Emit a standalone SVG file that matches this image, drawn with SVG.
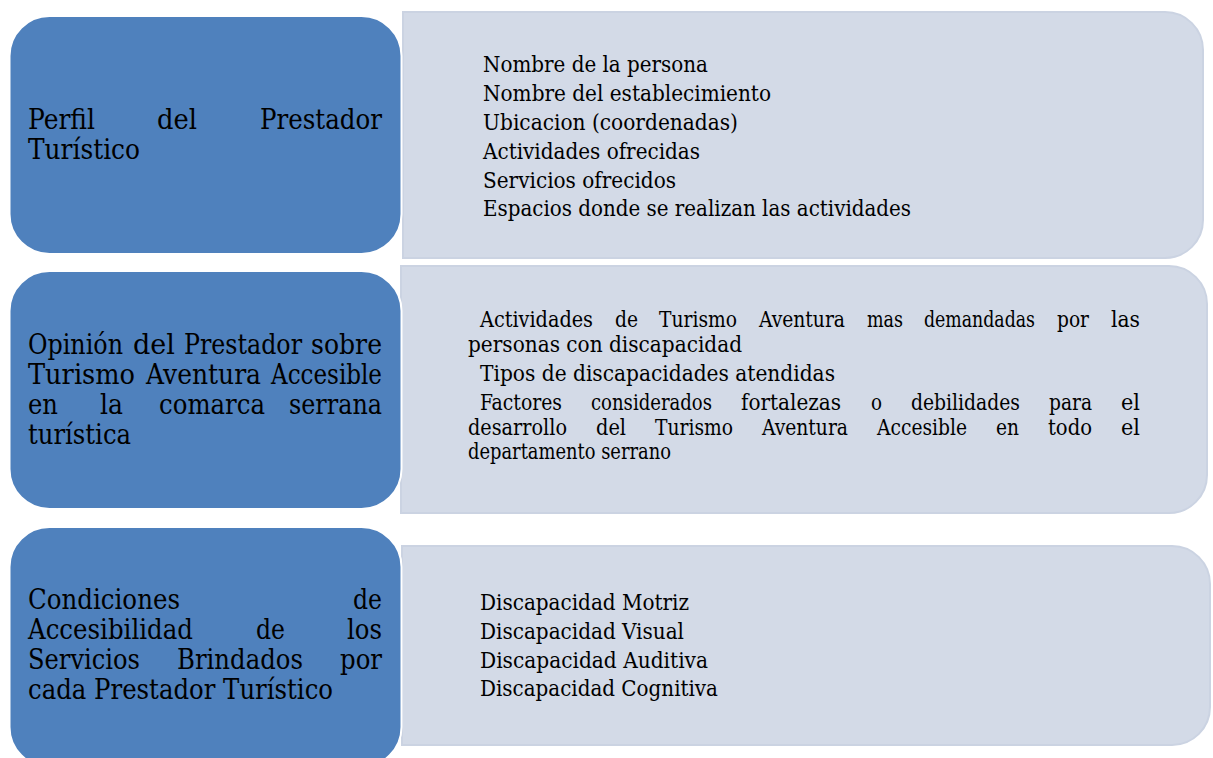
<svg xmlns="http://www.w3.org/2000/svg" width="1213" height="758" viewBox="0 0 1213 758">
<style>
.lbox{fill:#4F81BD;stroke:#FFFFFF;stroke-width:2}
.rbox{fill:#D3DAE7;stroke:#CBD3E2;stroke-width:2}
.lt{font-family:"DejaVu Serif","Liberation Serif",serif;font-size:27px;fill:#000}
.rt{font-family:"DejaVu Serif Condensed","DejaVu Serif","Liberation Serif",serif;font-stretch:condensed;font-size:22px;fill:#000}
</style>
<rect width="1213" height="758" fill="#FFFFFF"/>
<g id="connectors"></g>

<g id="detail1">
<path class="rbox" d="M403,12 H1165 A38,38 0 0 1 1203,50 V220 A38,38 0 0 1 1165,258 H403 Z"/>
<text class="rt" x="483" y="72" textLength="225" lengthAdjust="spacingAndGlyphs">Nombre de la persona</text>
<text class="rt" x="483" y="101" textLength="288" lengthAdjust="spacingAndGlyphs">Nombre del establecimiento</text>
<text class="rt" x="483" y="130" textLength="255" lengthAdjust="spacingAndGlyphs">Ubicacion (coordenadas)</text>
<text class="rt" x="483" y="159" textLength="217" lengthAdjust="spacingAndGlyphs">Actividades ofrecidas</text>
<text class="rt" x="483" y="188" textLength="193" lengthAdjust="spacingAndGlyphs">Servicios ofrecidos</text>
<text class="rt" x="483" y="216" textLength="428" lengthAdjust="spacingAndGlyphs">Espacios donde se realizan las actividades</text>
</g>

<g id="detail2">
<path class="rbox" d="M401,266 H1169 A38,38 0 0 1 1207,304 V475 A38,38 0 0 1 1169,513 H401 Z"/>
<text class="rt" x="480" y="327" textLength="113" lengthAdjust="spacingAndGlyphs">Actividades</text>
<text class="rt" x="615" y="327" textLength="23" lengthAdjust="spacingAndGlyphs">de</text>
<text class="rt" x="659" y="327" textLength="78" lengthAdjust="spacingAndGlyphs">Turismo</text>
<text class="rt" x="759" y="327" textLength="86" lengthAdjust="spacingAndGlyphs">Aventura</text>
<text class="rt" x="867" y="327" textLength="36" lengthAdjust="spacingAndGlyphs">mas</text>
<text class="rt" x="924" y="327" textLength="111" lengthAdjust="spacingAndGlyphs">demandadas</text>
<text class="rt" x="1057" y="327" textLength="32" lengthAdjust="spacingAndGlyphs">por</text>
<text class="rt" x="1111" y="327" textLength="29" lengthAdjust="spacingAndGlyphs">las</text>
<text class="rt" x="468" y="352" textLength="274" lengthAdjust="spacingAndGlyphs">personas con discapacidad</text>
<text class="rt" x="480" y="381" textLength="355" lengthAdjust="spacingAndGlyphs">Tipos de discapacidades atendidas</text>
<text class="rt" x="480" y="410" textLength="82" lengthAdjust="spacingAndGlyphs">Factores</text>
<text class="rt" x="591" y="410" textLength="121" lengthAdjust="spacingAndGlyphs">considerados</text>
<text class="rt" x="741" y="410" textLength="100" lengthAdjust="spacingAndGlyphs">fortalezas</text>
<text class="rt" x="871" y="410" textLength="11" lengthAdjust="spacingAndGlyphs">o</text>
<text class="rt" x="911" y="410" textLength="109" lengthAdjust="spacingAndGlyphs">debilidades</text>
<text class="rt" x="1049" y="410" textLength="43" lengthAdjust="spacingAndGlyphs">para</text>
<text class="rt" x="1121" y="410" textLength="19" lengthAdjust="spacingAndGlyphs">el</text>
<text class="rt" x="468" y="435" textLength="99" lengthAdjust="spacingAndGlyphs">desarrollo</text>
<text class="rt" x="596" y="435" textLength="30" lengthAdjust="spacingAndGlyphs">del</text>
<text class="rt" x="655" y="435" textLength="78" lengthAdjust="spacingAndGlyphs">Turismo</text>
<text class="rt" x="762" y="435" textLength="86" lengthAdjust="spacingAndGlyphs">Aventura</text>
<text class="rt" x="877" y="435" textLength="90" lengthAdjust="spacingAndGlyphs">Accesible</text>
<text class="rt" x="996" y="435" textLength="23" lengthAdjust="spacingAndGlyphs">en</text>
<text class="rt" x="1048" y="435" textLength="44" lengthAdjust="spacingAndGlyphs">todo</text>
<text class="rt" x="1121" y="435" textLength="19" lengthAdjust="spacingAndGlyphs">el</text>
<text class="rt" x="468" y="459" textLength="203" lengthAdjust="spacingAndGlyphs">departamento serrano</text>
</g>

<g id="detail3">
<path class="rbox" d="M402,546 H1172 A38,38 0 0 1 1210,584 V707 A38,38 0 0 1 1172,745 H402 Z"/>
<text class="rt" x="480" y="610" textLength="209" lengthAdjust="spacingAndGlyphs">Discapacidad Motriz</text>
<text class="rt" x="480" y="639" textLength="204" lengthAdjust="spacingAndGlyphs">Discapacidad Visual</text>
<text class="rt" x="480" y="668" textLength="228" lengthAdjust="spacingAndGlyphs">Discapacidad Auditiva</text>
<text class="rt" x="480" y="696" textLength="238" lengthAdjust="spacingAndGlyphs">Discapacidad Cognitiva</text>
</g>

<g id="node1">
<rect class="lbox" x="9.5" y="16" width="392" height="238" rx="40" ry="40"/>
<text class="lt" x="28" y="129" textLength="67" lengthAdjust="spacingAndGlyphs">Perfil</text>
<text class="lt" x="157" y="129" textLength="40" lengthAdjust="spacingAndGlyphs">del</text>
<text class="lt" x="260" y="129" textLength="122" lengthAdjust="spacingAndGlyphs">Prestador</text>
<text class="lt" x="28" y="159" textLength="112" lengthAdjust="spacingAndGlyphs">Turístico</text>
</g>

<g id="node2">
<rect class="lbox" x="9.5" y="271" width="392" height="238" rx="40" ry="40"/>
<text class="lt" x="28" y="354" textLength="95" lengthAdjust="spacingAndGlyphs">Opinión</text>
<text class="lt" x="133" y="354" textLength="42" lengthAdjust="spacingAndGlyphs">del</text>
<text class="lt" x="184" y="354" textLength="118" lengthAdjust="spacingAndGlyphs">Prestador</text>
<text class="lt" x="311" y="354" textLength="71" lengthAdjust="spacingAndGlyphs">sobre</text>
<text class="lt" x="28" y="384" textLength="107" lengthAdjust="spacingAndGlyphs">Turismo</text>
<text class="lt" x="146" y="384" textLength="115" lengthAdjust="spacingAndGlyphs">Aventura</text>
<text class="lt" x="271" y="384" textLength="111" lengthAdjust="spacingAndGlyphs">Accesible</text>
<text class="lt" x="28" y="414" textLength="30" lengthAdjust="spacingAndGlyphs">en</text>
<text class="lt" x="100" y="414" textLength="23" lengthAdjust="spacingAndGlyphs">la</text>
<text class="lt" x="159" y="414" textLength="106" lengthAdjust="spacingAndGlyphs">comarca</text>
<text class="lt" x="289" y="414" textLength="93" lengthAdjust="spacingAndGlyphs">serrana</text>
<text class="lt" x="28" y="444" textLength="103" lengthAdjust="spacingAndGlyphs">turística</text>
</g>

<g id="node3">
<rect class="lbox" x="9.5" y="527" width="392" height="240" rx="40" ry="40"/>
<text class="lt" x="28" y="609" textLength="152" lengthAdjust="spacingAndGlyphs">Condiciones</text>
<text class="lt" x="353" y="609" textLength="29" lengthAdjust="spacingAndGlyphs">de</text>
<text class="lt" x="28" y="639" textLength="165" lengthAdjust="spacingAndGlyphs">Accesibilidad</text>
<text class="lt" x="256" y="639" textLength="29" lengthAdjust="spacingAndGlyphs">de</text>
<text class="lt" x="347" y="639" textLength="35" lengthAdjust="spacingAndGlyphs">los</text>
<text class="lt" x="28" y="669" textLength="112" lengthAdjust="spacingAndGlyphs">Servicios</text>
<text class="lt" x="177" y="669" textLength="126" lengthAdjust="spacingAndGlyphs">Brindados</text>
<text class="lt" x="340" y="669" textLength="42" lengthAdjust="spacingAndGlyphs">por</text>
<text class="lt" x="28" y="699" textLength="305" lengthAdjust="spacingAndGlyphs">cada Prestador Turístico</text>
</g>
</svg>
